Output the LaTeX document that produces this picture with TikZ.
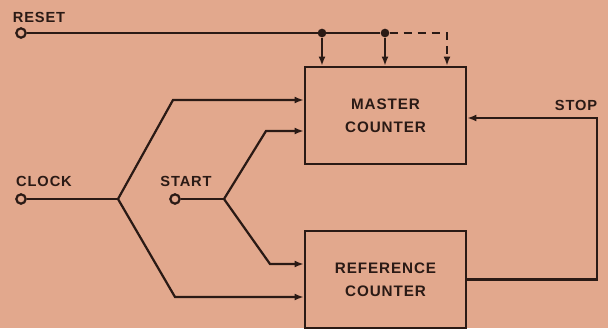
\documentclass[tikz,border=0pt]{standalone}
\usepackage{fontspec}
\setmainfont{Liberation Sans}[LetterSpace=6]
\usetikzlibrary{
    arrows.meta,
    positioning,
    calc
}
\definecolor{paperbg}{HTML}{E2A88D}
\definecolor{inkline}{HTML}{2A1A15}

\begin{document}
\begin{tikzpicture}[x=0.03cm, y=-0.03cm,
    wire/.style={draw=inkline, line width=1.9pt},
    feed/.style={wire, -{Latex[length=8pt,width=6pt]}},
    counterbox/.style={rectangle, draw=inkline, line width=1.9pt, minimum width=4.83cm,
        minimum height=2.91cm, align=center, font=\fontsize{13}{19.5}\selectfont\bfseries, text=inkline},
    terminal/.style={circle, draw=inkline, line width=1.9pt, fill=paperbg, inner sep=0pt, minimum size=0.28cm},
    junction/.style={circle, fill=inkline, inner sep=0pt, minimum size=0.26cm},
    sig/.style={font=\fontsize{12.5}{14}\selectfont\bfseries, text=inkline, inner sep=0pt}
]

    % Paper
    \fill[paperbg] (0,0) rectangle (608,328);
    \useasboundingbox (0,0) rectangle (608,328);

    % Counters
    \node[counterbox] (master) at (385.5,115.5) {MASTER\\COUNTER};
    \node[counterbox] (reference) at (385.5,279.5) {REFERENCE\\COUNTER};

    % Inputs
    \node[terminal] (reset) at (21,33) {};
    \node[terminal] (clock) at (21,199) {};
    \node[terminal] (start) at (175,199) {};
    \node[sig] (resetlbl) at (39,17) {RESET};
    \node[sig] (clocklbl) at (44,181) {CLOCK};
    \node[sig] (startlbl) at (186,181) {START};
    \node[sig] (stoplbl) at (576,105) {STOP};

    % Reset bus
    \node[junction] (tapa) at (322,33) {};
    \node[junction] (tapb) at (385,33) {};
    \coordinate (tapc) at (447,33);
    \draw[wire] (reset) -- (tapb);
    \draw[feed] (tapa) -- (tapa |- master.north);
    \draw[feed] (tapb) -- (tapb |- master.north);
    \draw[feed, dash pattern=on 7pt off 5pt] (tapb) -- (tapc) -- (tapc |- master.north);

    % Clock fan-out
    \coordinate (clkfork) at (118,199);
    \coordinate (clkup) at (173,100);
    \coordinate (clkdown) at (175,297);
    \draw[wire] (clock) -- (clkfork);
    \draw[feed] (clkfork) -- (clkup) -- (clkup -| master.west);
    \draw[feed] (clkfork) -- (clkdown) -- (clkdown -| reference.west);

    % Start fan-out
    \coordinate (stfork) at (224,199);
    \coordinate (stup) at (266,131);
    \coordinate (stdown) at (270,264);
    \draw[wire] (start) -- (stfork);
    \draw[feed] (stfork) -- (stup) -- (stup -| master.west);
    \draw[feed] (stfork) -- (stdown) -- (stdown -| reference.west);

    % Stop loop
    \coordinate (stopturn) at (597,118);
    \draw[feed] (reference.east) -| (stopturn) -- (stopturn -| master.east);

\end{tikzpicture}
\end{document}
